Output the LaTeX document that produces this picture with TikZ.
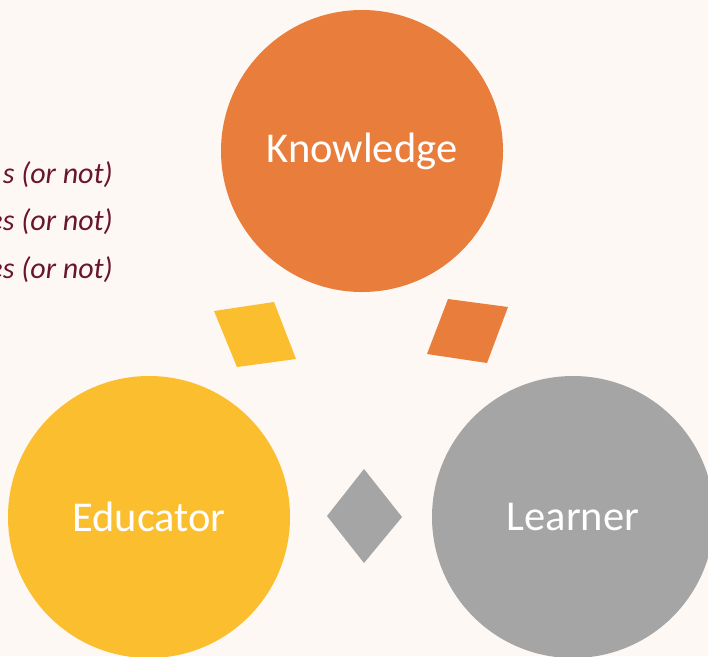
\documentclass[tikz,border=0pt]{standalone}
\usepackage{fontspec}
\setmainfont{Carlito}
\definecolor{paper}{HTML}{FDF8F3}
\definecolor{kcol}{HTML}{E97E3C}
\definecolor{ecol}{HTML}{FBBE2E}
\definecolor{lcol}{HTML}{A5A5A5}
\definecolor{maroon}{HTML}{6A1530}
\begin{document}
\begin{tikzpicture}[x=1pt,y=-1pt,
  bigcircle/.style={circle, minimum size=282pt, inner sep=0pt, text=white,
    font=\fontsize{42.5}{48}\selectfont},
  note/.style={anchor=east, text=maroon, inner sep=0pt,
    font=\fontsize{30}{34}\selectfont\itshape}]
  \useasboundingbox (0,0) rectangle (708,656);
  \fill[paper] (0,0) rectangle (708,656);
  \clip (0,0) rectangle (708,656);

  % side notes, running off the left edge
  \node[note] (n1) at (113,175) {s (or not)};
  \node[note] (n2) at (113,222) {es (or not)};
  \node[note] (n3) at (113,270) {es (or not)};

  % the three circles
  \node[bigcircle, fill=kcol] (know) at (362,151) {Knowledge};
  \node[bigcircle, fill=ecol] (edu)  at (149,517) {Educator};
  \node[bigcircle, fill=lcol] (learn) at (573,517) {Learner};

  % small shapes between the circles
  \fill[ecol] (214,311) -- (274,302) -- (296,359) -- (237,367) -- cycle;
  \fill[kcol] (448,299) -- (508,307) -- (487,363) -- (427,354) -- cycle;
  \fill[lcol] (364,469) -- (402,517) -- (364,563) -- (327,516) -- cycle;
\end{tikzpicture}
\end{document}
